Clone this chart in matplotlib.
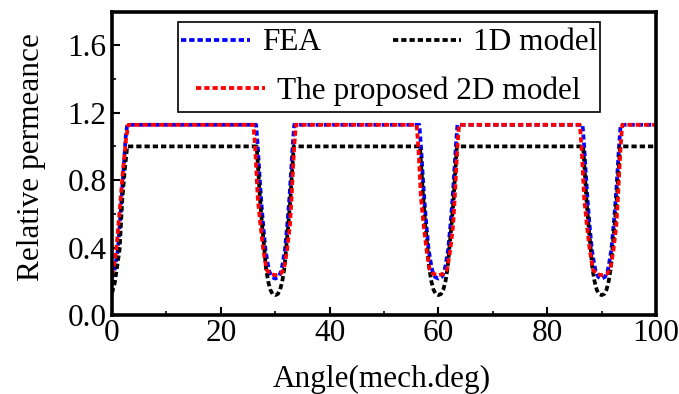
import matplotlib
matplotlib.use("Agg")
import matplotlib.pyplot as plt
from matplotlib.patches import Rectangle
from matplotlib.ticker import MultipleLocator

plt.rcParams['font.family'] = ['Liberation Serif', 'DejaVu Serif']

# ---- data ----
fea_x = [0, 0.5, 1.1, 1.7, 2.2, 2.5, 2.8,
         26.5, 26.8, 27.1, 27.4, 27.8, 28.2, 28.6, 28.9, 29.4, 30.0,
         30.6, 31.1, 31.4, 31.8, 32.2, 32.6, 32.9, 33.2, 33.5,
         56.5, 56.8, 57.1, 57.4, 57.8, 58.2, 58.6, 58.9, 59.4, 60.0,
         60.6, 61.1, 61.4, 61.8, 62.2, 62.6, 62.9, 63.2, 63.5,
         86.5, 86.8, 87.1, 87.4, 87.8, 88.2, 88.6, 88.9, 89.4, 90.0,
         90.6, 91.1, 91.4, 91.8, 92.2, 92.6, 92.9, 93.2, 93.5, 100]
fea_y = [0.22, 0.27, 0.39, 0.66, 0.90, 1.05, 1.128,
         1.128, 1.0, 0.84, 0.69, 0.53, 0.39, 0.31, 0.26, 0.225, 0.216,
         0.225, 0.26, 0.31, 0.39, 0.53, 0.69, 0.84, 1.0, 1.128,
         1.128, 1.0, 0.84, 0.69, 0.53, 0.39, 0.31, 0.26, 0.225, 0.216,
         0.225, 0.26, 0.31, 0.39, 0.53, 0.69, 0.84, 1.0, 1.128,
         1.128, 1.0, 0.84, 0.69, 0.53, 0.39, 0.31, 0.26, 0.225, 0.216,
         0.225, 0.26, 0.31, 0.39, 0.53, 0.69, 0.84, 1.0, 1.128, 1.128]

oned_x = [0, 0.5, 1.0, 1.4, 1.9, 2.4, 2.8,
          26.6, 26.9, 27.2, 27.6, 28.0, 28.3, 28.7, 29.1, 29.5, 30.0,
          30.5, 30.9, 31.3, 31.7, 32.0, 32.4, 32.8, 33.1, 33.4,
          56.6, 56.9, 57.2, 57.6, 58.0, 58.3, 58.7, 59.1, 59.5, 60.0,
          60.5, 60.9, 61.3, 61.7, 62.0, 62.4, 62.8, 63.1, 63.4,
          86.6, 86.9, 87.2, 87.6, 88.0, 88.3, 88.7, 89.1, 89.5, 90.0,
          90.5, 90.9, 91.3, 91.7, 92.0, 92.4, 92.8, 93.1, 93.4, 100]
oned_y = [0.13, 0.19, 0.30, 0.39, 0.69, 0.88, 1.0,
          1.0, 0.85, 0.69, 0.53, 0.39, 0.28, 0.20, 0.15, 0.125, 0.118,
          0.125, 0.15, 0.20, 0.28, 0.39, 0.53, 0.69, 0.85, 1.0,
          1.0, 0.85, 0.69, 0.53, 0.39, 0.28, 0.20, 0.15, 0.125, 0.118,
          0.125, 0.15, 0.20, 0.28, 0.39, 0.53, 0.69, 0.85, 1.0,
          1.0, 0.85, 0.69, 0.53, 0.39, 0.28, 0.20, 0.15, 0.125, 0.118,
          0.125, 0.15, 0.20, 0.28, 0.39, 0.53, 0.69, 0.85, 1.0, 1.0]

prop_x = [0, 0.4, 0.8, 1.4, 2.0, 2.6, 3.0,
          26.0, 26.3, 26.55, 26.8, 27.3, 27.8, 28.4, 29.0, 30.0,
          31.0, 31.6, 32.2, 32.7, 33.0, 33.25, 33.5, 33.8,
          56.0, 56.3, 56.55, 56.8, 57.3, 57.8, 58.4, 59.0, 60.0,
          61.0, 61.6, 62.2, 62.7, 63.0, 63.25, 63.5, 63.8,
          86.0, 86.3, 86.55, 86.8, 87.3, 87.8, 88.4, 89.0, 90.0,
          91.0, 91.6, 92.2, 92.7, 93.0, 93.25, 93.5, 93.8, 100]
prop_y = [0.24, 0.30, 0.39, 0.62, 0.85, 1.05, 1.128,
          1.128, 1.0, 0.85, 0.69, 0.53, 0.39, 0.27, 0.245, 0.236,
          0.245, 0.27, 0.39, 0.53, 0.69, 0.85, 1.0, 1.128,
          1.128, 1.0, 0.85, 0.69, 0.53, 0.39, 0.27, 0.245, 0.236,
          0.245, 0.27, 0.39, 0.53, 0.69, 0.85, 1.0, 1.128,
          1.128, 1.0, 0.85, 0.69, 0.53, 0.39, 0.27, 0.245, 0.236,
          0.245, 0.27, 0.39, 0.53, 0.69, 0.85, 1.0, 1.128, 1.128]

labels = ["FEA", "1D model", "The proposed 2D model"]
xticks = [0, 20, 40, 60, 80, 100]
yticks = [0.0, 0.4, 0.8, 1.2, 1.6]

# ---- figure ----
FS = 22.5
L, R, T, B = 112, 656, 11.5, 315
W, H = R - L, B - T
fig = plt.figure(figsize=(6.79, 3.94), dpi=100)
ax = fig.add_axes([L/679, 1-B/394, W/679, H/394])

dash = (0, (1.4, 0.8))
lw = 2.7
l_fea, = ax.plot(fea_x, fea_y, color='#0000ff', lw=lw, linestyle=dash)
l_1d, = ax.plot(oned_x, oned_y, color='#000000', lw=lw, linestyle=dash)
l_pr, = ax.plot(prop_x, prop_y, color='#ff0000', lw=lw, linestyle=dash)

ax.set_xlim(0, 100)
ax.set_ylim(0, 1.8)
ax.set_xticks(xticks)
ax.set_yticks(yticks)
ax.set_yticklabels([f"{v:.1f}" for v in yticks])
ax.xaxis.set_minor_locator(MultipleLocator(10))
ax.yaxis.set_minor_locator(MultipleLocator(0.2))
ax.tick_params(which='major', direction='in', length=6, width=1.5,
               labelsize=FS, top=False, right=False)
ax.tick_params(axis='y', which='major', pad=4)
ax.tick_params(axis='x', which='major', pad=3)
ax.tick_params(which='minor', direction='in', length=3, width=1.2,
               top=False, right=False)
for s in ax.spines.values():
    s.set_linewidth(2.6)

ax.set_xlabel("Angle(mech.deg)", fontsize=FS)
ax.set_ylabel("Relative permeance", fontsize=FS)
ax.xaxis.set_label_coords((382-L)/W, -(364-B)/H)
ax.yaxis.set_label_coords(-(L-46)/W, (B-157)/H)

# legend: two rows, framed by one box
leg_kw = dict(frameon=False, fontsize=FS, handlelength=2.2, handletextpad=0.38,
              borderpad=0, borderaxespad=0, loc='center left')
leg1 = ax.legend([l_fea, l_1d], labels[:2], ncol=2, columnspacing=2.3,
                 bbox_to_anchor=((181-L)/W, (B-43)/H), **leg_kw)
ax.add_artist(leg1)
leg2 = ax.legend([l_pr], labels[2:],
                 bbox_to_anchor=((196-L)/W, (B-91)/H), **leg_kw)
box = Rectangle(((178-L)/W, (B-112)/H), (600-178)/W, (112-22)/H,
                transform=ax.transAxes, fill=True, facecolor='white',
                edgecolor='black', lw=1.2, zorder=3)
ax.add_patch(box)
leg1.set_zorder(5)
leg2.set_zorder(5)

fig.savefig("out.png", dpi=100)
